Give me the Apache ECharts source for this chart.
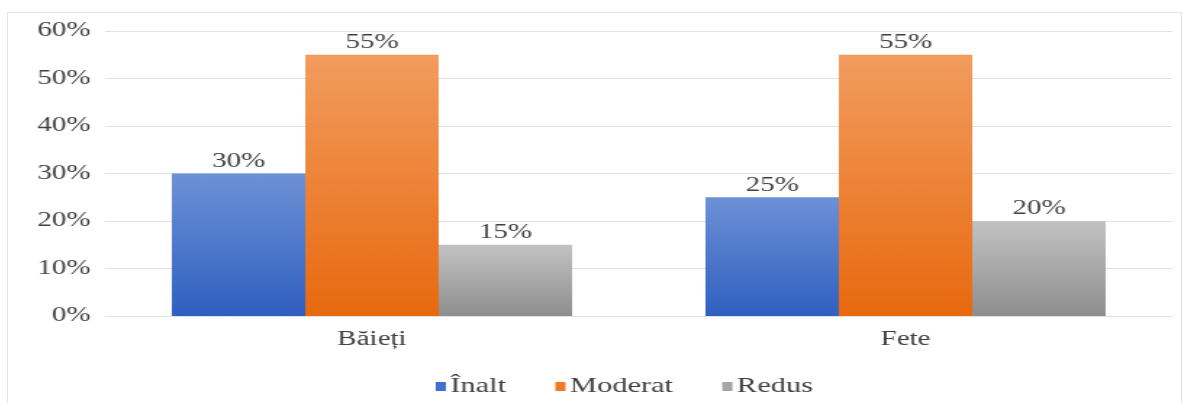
<!DOCTYPE html>
<html>
<head>
<meta charset="utf-8">
<script src="https://cdn.jsdelivr.net/npm/echarts@6/dist/echarts.min.js"></script>
<style>
  html, body { margin: 0; padding: 0; background: #fff; overflow: hidden; }
  #frame {
    position: absolute;
    left: 7px;
    top: 12px;
    width: 1175px;
    height: 400px;
    border: 1px solid #e3e3e3;
    box-sizing: border-box;
    overflow: hidden;
  }
  /* the source picture is stretched sideways, so the chart is too */
  #chart {
    position: absolute;
    left: 0;
    top: 0;
    width: 809px;
    height: 389px;
    transform: scaleX(1.45);
    transform-origin: 0 0;
  }
</style>
</head>
<body>
<div id="frame"><div id="chart"></div></div>
<script>
const categories = ['Băieți', 'Fete']
const seriesNames = ['Înalt', 'Moderat', 'Redus']
const inaltValues = [30, 25]
const moderatValues = [55, 55]
const redusValues = [15, 20]
const yTicks = [0, 10, 20, 30, 40, 50, 60]

const grad = (top, bottom) => new echarts.graphic.LinearGradient(0, 0, 0, 1, [
  { offset: 0, color: top },
  { offset: 1, color: bottom }
])

const fills = [
  grad('#6d91d6', '#2f5fc0'),
  grad('#f29c5e', '#e8690f'),
  grad('#c2c2c2', '#8e8e8e')
]
const legendColors = ['#3f6fcf', '#f07b25', '#a5a5a5']
const textColor = '#404040'
const serif = '"Liberation Serif", "DejaVu Serif", serif'

const chart = echarts.init(document.getElementById('chart'))

const makeSeries = (name, values, idx) => ({
  name,
  type: 'bar',
  data: values,
  barWidth: '25%',
  barGap: '0%',
  itemStyle: { color: fills[idx] },
  label: {
    show: true,
    position: 'top',
    distance: 2,
    formatter: p => p.value + '%',
    color: textColor,
    fontFamily: serif,
    fontSize: 20
  }
})

chart.setOption({
  animation: false,
  textStyle: { fontFamily: serif },
  legend: {
    top: 358,
    left: 290,
    itemWidth: 7,
    itemHeight: 9,
    itemGap: 34,
    icon: 'rect',
    textStyle: { color: textColor, fontSize: 21, fontFamily: serif, padding: [0, 0, 0, -2] },
    data: seriesNames.map((n, i) => ({ name: n, itemStyle: { color: legendColors[i] } }))
  },
  grid: {
    left: 67,
    right: 6,
    top: 18,
    height: 285
  },
  xAxis: {
    type: 'category',
    data: categories,
    axisLine: { show: false },
    axisTick: { show: false },
    axisLabel: {
      color: textColor,
      fontSize: 20,
      fontFamily: serif,
      margin: 14
    }
  },
  yAxis: {
    type: 'value',
    min: yTicks[0],
    max: yTicks[yTicks.length - 1],
    interval: 10,
    axisLine: { show: false },
    axisTick: { show: false },
    splitLine: { lineStyle: { color: '#e2e2e2', width: 1 } },
    axisLabel: {
      formatter: v => v + '%',
      color: textColor,
      fontSize: 20,
      fontFamily: serif,
      margin: 10
    }
  },
  series: [
    makeSeries(seriesNames[0], inaltValues, 0),
    makeSeries(seriesNames[1], moderatValues, 1),
    makeSeries(seriesNames[2], redusValues, 2)
  ]
})
</script>
</body>
</html>
